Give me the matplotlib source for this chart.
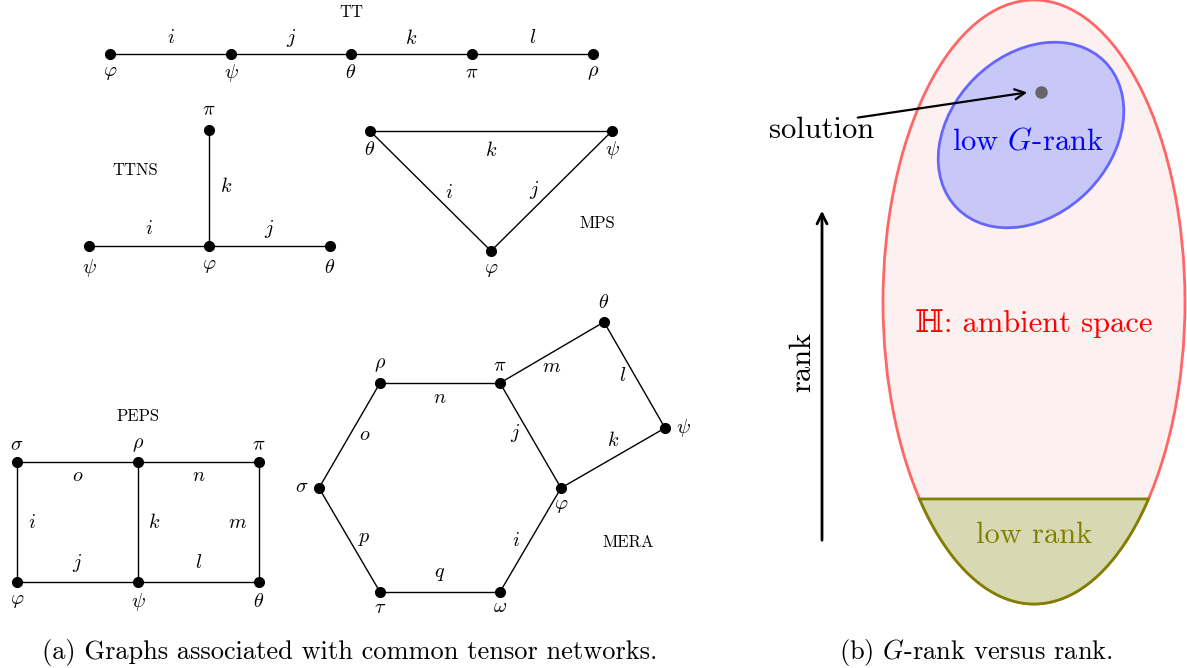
import matplotlib.pyplot as plt
from matplotlib.patches import Ellipse, Polygon
import numpy as np

plt.rcParams['mathtext.fontset'] = 'cm'
plt.rcParams['font.family'] = 'serif'
plt.rcParams['font.serif'] = ['cmr10', 'DejaVu Serif']
plt.rcParams['axes.unicode_minus'] = False

# tensor network graphs: node coordinates (pixels), node names, edges, edge names
tt_x = [110, 231, 351, 472, 593]
tt_y = [54, 54, 54, 54, 54]
tt_names = [r'\varphi', r'\psi', r'\theta', r'\pi', r'\rho']
tt_edges = [(0, 1), (1, 2), (2, 3), (3, 4)]
tt_edge_names = ['i', 'j', 'k', 'l']

ttns_x = [209, 89, 209, 330]
ttns_y = [130, 246, 246, 246]
ttns_names = [r'\pi', r'\psi', r'\varphi', r'\theta']
ttns_edges = [(0, 2), (1, 2), (2, 3)]
ttns_edge_names = ['k', 'i', 'j']

mps_x = [370, 612, 491]
mps_y = [131, 131, 251]
mps_names = [r'\theta', r'\psi', r'\varphi']
mps_edges = [(0, 1), (0, 2), (1, 2)]
mps_edge_names = ['k', 'i', 'j']

peps_x = [17, 138, 259, 17, 138, 259]
peps_y = [462, 462, 462, 582, 582, 582]
peps_names = [r'\sigma', r'\rho', r'\pi', r'\varphi', r'\psi', r'\theta']
peps_edges = [(0, 1), (1, 2), (0, 3), (1, 4), (2, 5), (3, 4), (4, 5)]
peps_edge_names = ['o', 'n', 'i', 'k', 'm', 'j', 'l']

mera_x = [380, 500, 319, 561, 380, 500, 604, 665]
mera_y = [383, 383, 488, 488, 592, 592, 322, 428]
mera_names = [r'\rho', r'\pi', r'\sigma', r'\varphi', r'\tau', r'\omega', r'\theta', r'\psi']
mera_edges = [(0, 1), (2, 0), (1, 3), (1, 6), (6, 7), (3, 7), (2, 4), (5, 3), (4, 5)]
mera_edge_names = ['n', 'o', 'j', 'm', 'l', 'k', 'p', 'i', 'q']

# layout: label offsets from node / edge midpoint
tt_node_off = [(0, 19)] * 5
tt_edge_off = [(0, -16)] * 4
ttns_node_off = [(0, -20), (0, 22), (0, 20), (0, 22)]
ttns_edge_off = [(17, -1), (0, -17), (0, -17)]
mps_node_off = [(0, 19), (0, 19), (0, 19)]
mps_edge_off = [(0, 19), (18, 2), (-17, -1)]
peps_node_off = [(0, -17), (0, -17), (0, -17), (0, 19), (0, 20), (0, 20)]
peps_edge_off = [(0, 14), (0, 14), (15, 1), (16, 1), (-21, 1), (0, -19), (0, -19)]
mera_node_off = [(0, -18), (0, -17), (-17, -1), (0, 18), (0, 16), (0, 15), (0, -19), (18, 0)]
mera_edge_off = [(0, 15), (15, 0), (-15, -2), (0, 15), (-12, 1), (0, -17), (15, -1), (-15, 1), (0, -18)]

fig = plt.figure(figsize=(11.87, 6.68), dpi=100)
ax = fig.add_axes([0, 0, 1, 1])
ax.set_xlim(0, 1187)
ax.set_ylim(668, 0)
ax.axis('off')


def draw_graph(xs, ys, names, edges, enames, noff, eoff):
    for (a, b), nm, (dx, dy) in zip(edges, enames, eoff):
        ax.plot([xs[a], xs[b]], [ys[a], ys[b]], color='black', lw=1.0, zorder=1)
        mx, my = (xs[a] + xs[b]) / 2, (ys[a] + ys[b]) / 2
        ax.text(mx + dx, my + dy, f'${nm}$', ha='center', va='center', fontsize=14.5)
    ax.plot(xs, ys, 'o', color='black', ms=7, zorder=2)
    for x, y, nm, (dx, dy) in zip(xs, ys, names, noff):
        ax.text(x + dx, y + dy, f'${nm}$', ha='center', va='center', fontsize=14.5)


draw_graph(tt_x, tt_y, tt_names, tt_edges, tt_edge_names, tt_node_off, tt_edge_off)
draw_graph(ttns_x, ttns_y, ttns_names, ttns_edges, ttns_edge_names, ttns_node_off, ttns_edge_off)
draw_graph(mps_x, mps_y, mps_names, mps_edges, mps_edge_names, mps_node_off, mps_edge_off)
draw_graph(peps_x, peps_y, peps_names, peps_edges, peps_edge_names, peps_node_off, peps_edge_off)
draw_graph(mera_x, mera_y, mera_names, mera_edges, mera_edge_names, mera_node_off, mera_edge_off)

ax.text(351, 12, 'TT', ha='center', va='center', fontsize=12)
ax.text(135, 170, 'TTNS', ha='center', va='center', fontsize=12)
ax.text(597, 223, 'MPS', ha='center', va='center', fontsize=12)
ax.text(138, 416, 'PEPS', ha='center', va='center', fontsize=12)
ax.text(628, 542, 'MERA', ha='center', va='center', fontsize=12)

# right panel: ambient space, low rank cap, low G-rank region
cx, cy, w, h = 1034, 302, 302, 604
ax.add_patch(Ellipse((cx, cy), w, h, facecolor='#fdf0f0', edgecolor='#ff6666', lw=2, zorder=1))

cut_y = 497
t = np.linspace(0, np.pi, 200)
ex = cx + w / 2 * np.cos(t)
ey = cy + h / 2 * np.sin(t)
mask = ey >= cut_y
cap = np.column_stack([ex[mask], ey[mask]])
ax.add_patch(Polygon(cap, closed=True, facecolor='#d8d8b3', edgecolor='#808000', lw=2, zorder=2))

ax.add_patch(Ellipse((1031, 135), 208, 160, angle=-45, facecolor='#c8c8f8',
                     edgecolor='#6666ff', lw=2, zorder=2))

ax.plot([1041], [92], 'o', color='#666666', ms=8, zorder=3)
ax.annotate('', xy=(1030, 92), xytext=(855, 118),
            arrowprops=dict(arrowstyle='->', color='black', lw=1.6, mutation_scale=18), zorder=4)
ax.text(822, 130, 'solution', ha='center', va='center', fontsize=22)
ax.text(1028, 142, 'low $G$-rank', ha='center', va='center', fontsize=22, color='#0000ff', zorder=4)
ax.text(1034, 324, 'ℍ: ambient space', ha='center', va='center', fontsize=22, color='#ff0000', zorder=4,
        family=['cmr10', 'DejaVu Serif', 'DejaVu Sans'])
ax.text(1034, 535, 'low rank', ha='center', va='center', fontsize=22, color='#808000', zorder=4)

ax.annotate('', xy=(822, 208), xytext=(822, 543),
            arrowprops=dict(arrowstyle='->', color='black', lw=2, mutation_scale=18))
ax.text(803, 362, 'rank', ha='center', va='center', fontsize=22, rotation=90)

ax.text(350, 652, '(a) Graphs associated with common tensor networks.', ha='center', va='center', fontsize=19)
ax.text(976, 652, '(b) $G$-rank versus rank.', ha='center', va='center', fontsize=19)

fig.savefig('out.png', dpi=100)
